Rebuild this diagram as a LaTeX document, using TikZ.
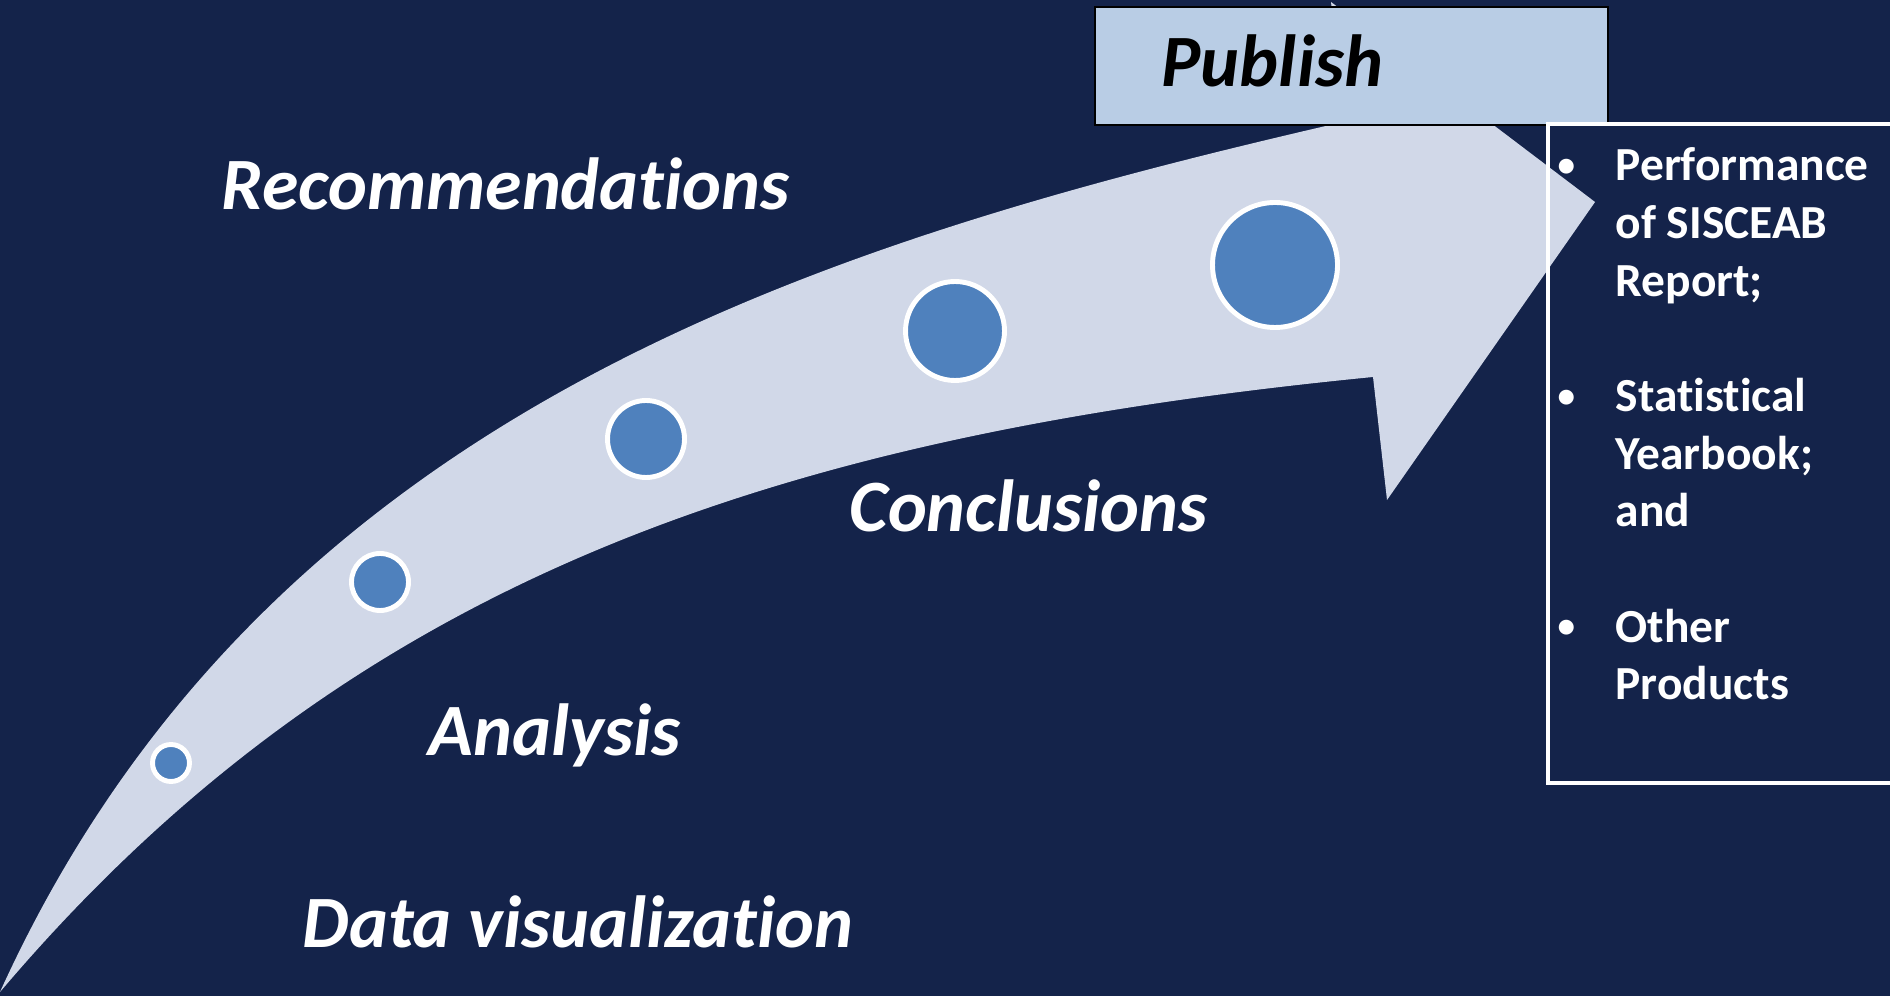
\documentclass[tikz,border=0pt]{standalone}
\usepackage{fontspec}
\setmainfont{Carlito}[Ligatures=NoCommon]
\usepackage{tikz}
\usetikzlibrary{shapes,backgrounds}
\definecolor{navy}{RGB}{20,35,74}
\definecolor{pale}{RGB}{209,216,232}
\definecolor{dotblue}{RGB}{79,129,189}
\definecolor{boxblue}{RGB}{185,205,229}
\newcommand{\listdot}{\makebox[5.8mm][l]{\raisebox{1.2pt}{\fontsize{10}{10}\selectfont\textbullet}}}

\begin{document}
\begin{tikzpicture}[x=0.1mm, y=-0.1mm,
	stage/.style={text=white, anchor=base west, inner sep=0pt, font=\fontsize{21}{25}\selectfont\bfseries\itshape},
	dot/.style={circle, fill=dotblue, draw=white, line width=1.4pt, inner sep=0pt}]
	\useasboundingbox (0,0) rectangle (1890,996);
	\clip (0,0) rectangle (1890,996);
	% draw background
	\fill[navy] (0,0) rectangle (1890,996);
	
	% draw curved arrow
	\fill[pale] (0,992) .. controls (265,409) and (823,242) .. (1343,122)
		-- (1331,2) -- (1595,202) -- (1387,500) -- (1373,377)
		.. controls (773,436) and (350,579) .. (0,992) -- cycle;
	
	% draw dots
	\node[dot, minimum size=3.7mm] (d1) at (171,763) {};
	\node[dot, minimum size=5.7mm] (d2) at (380,582) {};
	\node[dot, minimum size=7.7mm] (d3) at (646,439) {};
	\node[dot, minimum size=9.9mm] (d4) at (955,331) {};
	\node[dot, minimum size=12.5mm] (d5) at (1275,265) {};
	
	% draw stages
	\node[stage] (recommend) at (221,210) {Recommendations};
	\node[stage] (conclude) at (849,532) {Conclusions};
	\node[stage] (analysis) at (428,755) {Analysis};
	\node[stage] (dataviz) at (302,947) {Data visualization};
	
	% draw publish box
	\node[draw=black, line width=0.6pt, fill=boxblue, anchor=north west, minimum width=51.3mm, minimum height=11.8mm, inner sep=0pt] (publishbox) at (1094,6) {};
	\node[stage, text=black] (publish) at (1161,87) {Publish};
	
	% draw products list
	\node[draw=white, line width=1.2pt, anchor=north west, minimum width=40mm, minimum height=65.9mm, inner sep=0pt] (listbox) at (1546,122) {};
	\node[anchor=base west, inner sep=0pt, text=white, font=\fontsize{13.5}{16.4}\selectfont\bfseries] (products) at (1557,181)
		{\begin{tabular}[t]{@{}l@{}l@{}}
			\listdot & Performance\\
			& of SISCEAB\\
			& Report;\\
			& \\
			\listdot & Statistical\\
			& Yearbook;\\
			& and\\
			& \\
			\listdot & Other\\
			& Products
		\end{tabular}};
\end{tikzpicture}
\end{document}
